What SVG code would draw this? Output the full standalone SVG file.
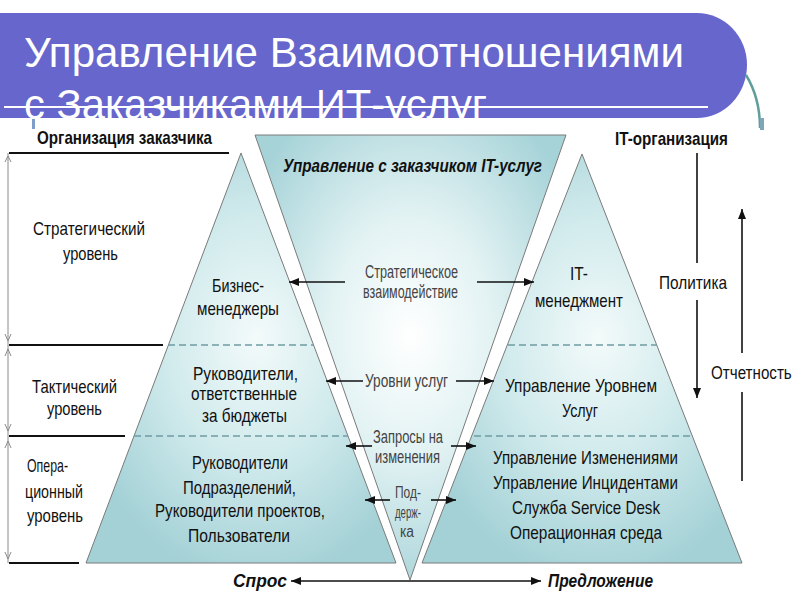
<svg xmlns="http://www.w3.org/2000/svg" width="800" height="600" viewBox="0 0 800 600">
<defs>
  <style>
    text { font-family: "Liberation Sans", Arial, sans-serif; }
    .title { font-size: 42px; fill: #ffffff; }
    .t { font-size: 19px; fill: #111111; }
    .lbl { font-size: 18.5px; fill: #111111; }
    .mid { font-size: 17.5px; fill: #444444; }
    .sm { font-size: 16px; fill: #444444; }
    .hdr { font-size: 19px; font-weight: bold; fill: #111111; }
    .bi { font-size: 19px; font-weight: bold; font-style: italic; fill: #111111; }
    .shape { stroke: #7a7a7a; stroke-width: 1; }
    .dash { stroke: #6f9ca3; stroke-width: 1.6; stroke-dasharray: 7 4; fill: none; }
    .rule { stroke: #111111; stroke-width: 2; fill: none; }
    .arr { stroke: #111111; stroke-width: 1.6; fill: none; }
    .axis { stroke: #8a8a8a; stroke-width: 1; fill: none; }
  </style>
  <clipPath id="titleClip">
    <rect x="0" y="0" width="800" height="119"/>
  </clipPath>
  <radialGradient id="gTri" gradientUnits="objectBoundingBox" cx="0.55" cy="0.45" r="0.6">
    <stop offset="0" stop-color="#f3fafa"/>
    <stop offset="0.5" stop-color="#d0eaec"/>
    <stop offset="1" stop-color="#a3d1d6"/>
  </radialGradient>
  <radialGradient id="gV" gradientUnits="objectBoundingBox" cx="0.5" cy="0.45" r="0.6">
    <stop offset="0" stop-color="#ffffff"/>
    <stop offset="0.45" stop-color="#e2f2f3"/>
    <stop offset="1" stop-color="#a6d3d8"/>
  </radialGradient>
  <marker id="ah" viewBox="0 0 10 8" refX="10" refY="4" markerWidth="10" markerHeight="8" markerUnits="userSpaceOnUse" orient="auto-start-reverse">
    <path d="M0,0 L10,4 L0,8 z" fill="#111111"/>
  </marker>
</defs>

<!-- slide title banner -->
<g id="title">
  <path d="M0,13 H697 A50,52 0 0 1 747,65 A50,53 0 0 1 697,118 H0 Z" fill="#6666cc"/>
  <g clip-path="url(#titleClip)">
    <text class="title" x="24" y="67" textLength="660" lengthAdjust="spacingAndGlyphs">Управление Взаимоотношениями</text>
    <text class="title" x="24" y="119" textLength="463" lengthAdjust="spacingAndGlyphs">с Заказчиками ИТ-услуг</text>
  </g>
</g>

<!-- diagram picture area -->
<rect x="0" y="119" width="800" height="481" fill="#ffffff"/>
<line x1="4" y1="107" x2="708" y2="107" stroke="#ffffff" stroke-width="2"/>
<path d="M746,75 Q760,98 760,128" stroke="#5f9e9a" stroke-width="2.5" fill="none"/>
<rect x="32" y="119" width="3" height="10" fill="#7f9fc8"/>
<rect x="760" y="118" width="4" height="12" fill="#7fa6b8"/>

<!-- left: customer organisation levels -->
<g id="customer-levels">
  <text class="hdr" x="37" y="144" textLength="175" lengthAdjust="spacingAndGlyphs">Организация заказчика</text>
  <line class="rule" x1="9" y1="153" x2="229" y2="153"/>
  <line class="rule" x1="9" y1="345" x2="163" y2="345"/>
  <line class="rule" x1="9" y1="436" x2="125" y2="436"/>
  <line class="rule" x1="9" y1="563" x2="79" y2="563"/>
  <text class="lbl" x="33" y="235" textLength="112" lengthAdjust="spacingAndGlyphs">Стратегический</text>
  <text class="lbl" x="63" y="260" textLength="55" lengthAdjust="spacingAndGlyphs">уровень</text>
  <text class="lbl" x="32" y="393" textLength="85" lengthAdjust="spacingAndGlyphs">Тактический</text>
  <text class="lbl" x="47" y="415" textLength="55" lengthAdjust="spacingAndGlyphs">уровень</text>
  <text class="lbl" x="27" y="472" textLength="41" lengthAdjust="spacingAndGlyphs">Опера-</text>
  <text class="lbl" x="25" y="498" textLength="58" lengthAdjust="spacingAndGlyphs">ционный</text>
  <text class="lbl" x="27" y="522" textLength="56" lengthAdjust="spacingAndGlyphs">уровень</text>
</g>

<!-- left triangle: customer -->
<g id="customer-pyramid">
  <polygon class="shape" points="241,153 396,563 86,563" fill="url(#gTri)"/>
  <line class="dash" x1="168" y1="345" x2="314" y2="345"/>
  <line class="dash" x1="134" y1="436" x2="348" y2="436"/>
  <text class="t" x="212" y="292" textLength="52" lengthAdjust="spacingAndGlyphs">Бизнес-</text>
  <text class="t" x="197" y="315" textLength="82" lengthAdjust="spacingAndGlyphs">менеджеры</text>
  <text class="t" x="193" y="380" textLength="105" lengthAdjust="spacingAndGlyphs">Руководители,</text>
  <text class="t" x="191" y="400" textLength="106" lengthAdjust="spacingAndGlyphs">ответственные</text>
  <text class="t" x="202" y="422" textLength="85" lengthAdjust="spacingAndGlyphs">за бюджеты</text>
  <text class="t" x="192" y="469" textLength="96" lengthAdjust="spacingAndGlyphs">Руководители</text>
  <text class="t" x="183" y="494" textLength="113" lengthAdjust="spacingAndGlyphs">Подразделений,</text>
  <text class="t" x="155" y="517" textLength="170" lengthAdjust="spacingAndGlyphs">Руководители проектов,</text>
  <text class="t" x="188" y="542" textLength="102" lengthAdjust="spacingAndGlyphs">Пользователи</text>
</g>

<!-- middle inverted triangle -->
<g id="service-relationship">
  <polygon class="shape" points="255,135 566,135 410,580" fill="url(#gV)"/>
  <text class="bi" x="283" y="172" textLength="259" lengthAdjust="spacingAndGlyphs">Управление с заказчиком IT-услуг</text>
  <text class="mid" x="365" y="278" textLength="93" lengthAdjust="spacingAndGlyphs">Стратегическое</text>
  <text class="mid" x="363" y="298" textLength="95" lengthAdjust="spacingAndGlyphs">взаимодействие</text>
  <text class="mid" x="365" y="387" textLength="83" lengthAdjust="spacingAndGlyphs">Уровни услуг</text>
  <text class="mid" x="373" y="443" textLength="70" lengthAdjust="spacingAndGlyphs">Запросы на</text>
  <text class="mid" x="375" y="463" textLength="65" lengthAdjust="spacingAndGlyphs">изменения</text>
  <text class="sm" x="395" y="498" textLength="26" lengthAdjust="spacingAndGlyphs">Под-</text>
  <text class="sm" x="395" y="518" textLength="26" lengthAdjust="spacingAndGlyphs">держ-</text>
  <text class="sm" x="400" y="537" textLength="14" lengthAdjust="spacingAndGlyphs">ка</text>
</g>

<!-- right triangle: IT organisation -->
<g id="it-pyramid">
  <polygon class="shape" points="582,154 742,563 422,563" fill="url(#gTri)"/>
  <line class="dash" x1="508" y1="345" x2="657" y2="345"/>
  <line class="dash" x1="474" y1="436" x2="690" y2="436"/>
  <text class="t" x="570" y="280" textLength="18" lengthAdjust="spacingAndGlyphs">IT-</text>
  <text class="t" x="535" y="307" textLength="88" lengthAdjust="spacingAndGlyphs">менеджмент</text>
  <text class="t" x="505" y="392" textLength="152" lengthAdjust="spacingAndGlyphs">Управление Уровнем</text>
  <text class="t" x="562" y="417" textLength="36" lengthAdjust="spacingAndGlyphs">Услуг</text>
  <text class="t" x="493" y="464" textLength="185" lengthAdjust="spacingAndGlyphs">Управление Изменениями</text>
  <text class="t" x="493" y="489" textLength="185" lengthAdjust="spacingAndGlyphs">Управление Инцидентами</text>
  <text class="t" x="512" y="514" textLength="148" lengthAdjust="spacingAndGlyphs">Служба Service Desk</text>
  <text class="t" x="510" y="539" textLength="152" lengthAdjust="spacingAndGlyphs">Операционная среда</text>
</g>

<!-- right: IT organisation header and policy / reporting -->
<g id="it-organisation">
  <text class="hdr" x="615" y="145" textLength="113" lengthAdjust="spacingAndGlyphs">IT-организация</text>
  <text class="lbl" x="659" y="289" textLength="68" lengthAdjust="spacingAndGlyphs">Политика</text>
  <text class="lbl" transform="translate(711,379) scale(0.82,1)" x="0" y="0">Отчетность</text>
</g>

<!-- supply / demand labels -->
<g id="demand-supply">
  <text class="bi" x="233" y="587" textLength="54" lengthAdjust="spacingAndGlyphs">Спрос</text>
  <text class="bi" x="548" y="587" textLength="105" lengthAdjust="spacingAndGlyphs">Предложение</text>
</g>

<!-- connectors -->
<g id="connectors">
  <!-- left level axis -->
  <line class="axis" x1="8" y1="153" x2="8" y2="563"/>
  <polyline class="axis" points="5,162 8,156 11,162"/>
  <polyline class="axis" points="5,334 8,341 11,334"/>
  <polyline class="axis" points="5,356 8,349 11,356"/>
  <polyline class="axis" points="5,424 8,431 11,424"/>
  <polyline class="axis" points="5,448 8,441 11,448"/>
  <polyline class="axis" points="5,552 8,559 11,552"/>
  <!-- policy / reporting -->
  <line class="arr" x1="697" y1="153" x2="697" y2="263"/>
  <line class="arr" x1="697" y1="300" x2="697" y2="398" marker-end="url(#ah)"/>
  <line class="arr" x1="742" y1="353" x2="742" y2="209" marker-end="url(#ah)"/>
  <line class="arr" x1="742" y1="392" x2="742" y2="481"/>
  <!-- interactions -->
  <line class="arr" x1="345" y1="282" x2="289" y2="282" marker-end="url(#ah)"/>
  <line class="arr" x1="477" y1="282" x2="534" y2="282" marker-end="url(#ah)"/>
  <line class="arr" x1="363" y1="381" x2="326" y2="381" marker-end="url(#ah)"/>
  <line class="arr" x1="456" y1="381" x2="494" y2="381" marker-end="url(#ah)"/>
  <line class="arr" x1="372" y1="446" x2="346" y2="446" marker-end="url(#ah)"/>
  <line class="arr" x1="451" y1="446" x2="476" y2="446" marker-end="url(#ah)"/>
  <line class="arr" x1="390" y1="500" x2="365" y2="500" marker-end="url(#ah)"/>
  <line class="arr" x1="431" y1="500" x2="456" y2="500" marker-end="url(#ah)"/>
  <!-- demand / supply -->
  <line class="arr" x1="291" y1="581" x2="541" y2="581" marker-start="url(#ah)" marker-end="url(#ah)"/>
</g>
</svg>
